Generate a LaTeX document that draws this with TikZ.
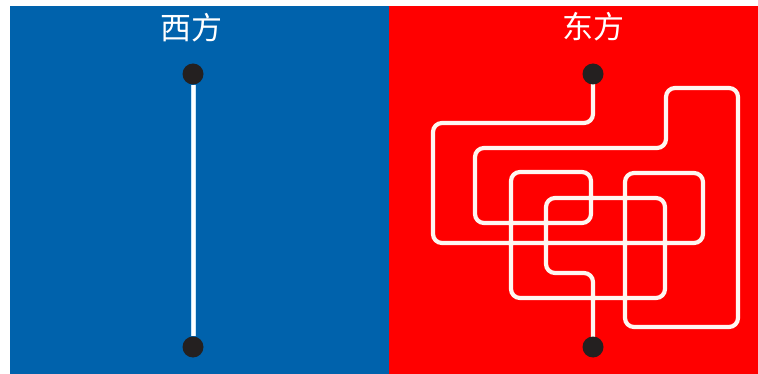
\documentclass[tikz,border=0pt]{standalone}
\usepackage{fontspec}
\newfontfamily\cjk{Noto Sans CJK SC}
\definecolor{westblue}{RGB}{0,98,172}
\definecolor{eastred}{RGB}{255,0,0}
\definecolor{dotcol}{RGB}{36,32,32}
\definecolor{wirecol}{RGB}{255,246,240}
\tikzset{
  dotnode/.style={circle,fill=dotcol,minimum size=21pt,inner sep=0pt},
  titlenode/.style={text=white,font=\cjk\fontsize{31}{33}\selectfont},
  wire/.style={draw=wirecol,line width=4.2pt,rounded corners=9pt,line cap=round}
}
\begin{document}
\begin{tikzpicture}[x=1pt,y=-1pt]
\useasboundingbox (0,0) rectangle (758,374);
\fill[white] (0,0) rectangle (758,374);
\fill[westblue] (10,6) rectangle (389,374);
\fill[eastred] (389,6) rectangle (758,374);
\node[titlenode] (tw) at (191,28) {西方};
\node[titlenode] (te) at (593,27) {东方};
% West
\node[dotnode] (wa) at (193,74) {};
\node[dotnode] (wb) at (193,347) {};
\draw[draw={rgb,255:red,200;green,230;blue,250},line width=5pt] (wa) -- (wb);
\draw[white,line width=3pt] (wa) -- (wb);
% East
\coordinate (ea) at (593,74);
\coordinate (eb) at (593,347);
\draw[wire] (ea) -- (593,123) -- (433,123) -- (433,243) -- (703,243) -- (703,173)
  -- (625,173) -- (625,327) -- (738,327) -- (738,88) -- (666,88) -- (666,148)
  -- (475,148) -- (475,223) -- (591,223) -- (591,172) -- (511,172) -- (511,298)
  -- (665,298) -- (665,198) -- (546,198) -- (546,273) -- (593,273) -- (eb);
\node[dotnode] (ed1) at (ea) {};
\node[dotnode] (ed2) at (eb) {};
\end{tikzpicture}
\end{document}
